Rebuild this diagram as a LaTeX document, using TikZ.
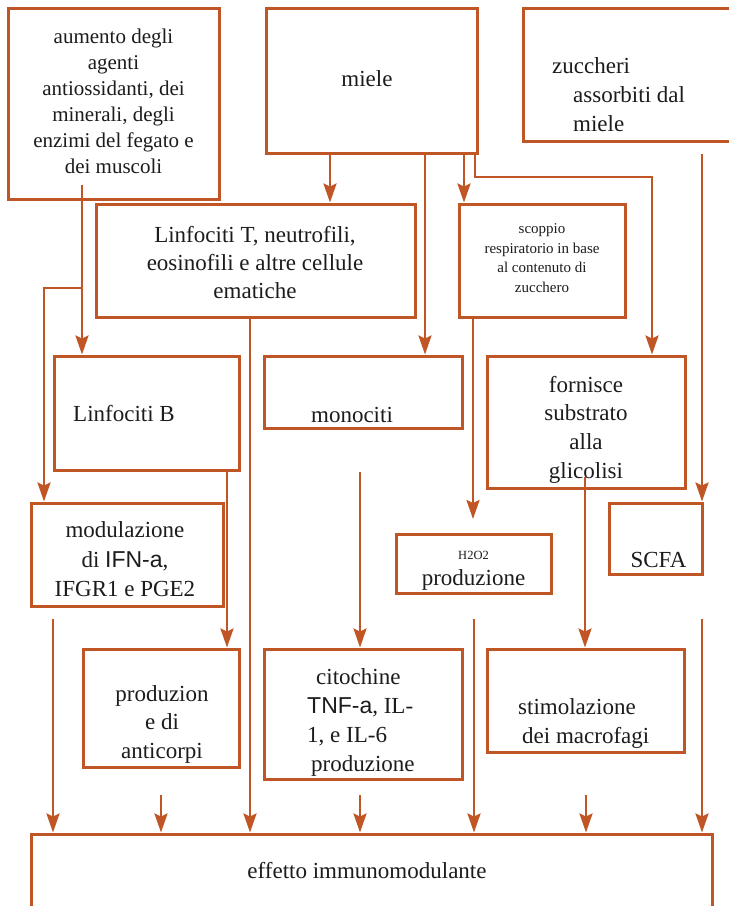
\documentclass[tikz,border=0pt]{standalone}
\usepackage{fontspec}
\setmainfont{Liberation Serif}
\setsansfont{Liberation Sans}
\usetikzlibrary{arrows.meta}
\definecolor{brn}{RGB}{192,86,38}
\definecolor{ink}{RGB}{30,27,28}
\begin{document}
\begin{tikzpicture}[x=1pt,y=-1pt,
  frame/.style={inner sep=0pt,outer sep=0pt},
  edge/.style={draw=brn,line width=3pt},
  conn/.style={draw=brn,line width=2.6pt},
  arr/.style={conn,shorten >=1.5pt,-{Stealth[length=19pt,width=13pt,inset=3pt]}},
  txt/.style={text=ink,inner sep=0pt,align=center,font=\fontsize{23}{28.7}\selectfont},
]
\path[fill=white,use as bounding box] (0,0) rectangle (729,906);

% box frames
\node[frame,minimum width=211pt,minimum height=191pt] (aum) at (113.5,103.5) {};
\node[frame,minimum width=211pt,minimum height=145pt] (miele) at (371.5,80.5) {};
\node[frame,minimum width=220pt,minimum height=133pt] (zuc) at (633,74.5) {};
\node[frame,minimum width=319pt,minimum height=113pt] (LT) at (255.5,260.5) {};
\node[frame,minimum width=166pt,minimum height=113pt] (sco) at (542,260.5) {};
\node[frame,minimum width=185pt,minimum height=114pt] (LB) at (146.5,413) {};
\node[frame,minimum width=198pt,minimum height=72pt] (mon) at (363,392) {};
\node[frame,minimum width=198pt,minimum height=132pt] (forn) at (586,422) {};
\node[frame,minimum width=192pt,minimum height=103pt] (mod) at (127,554.5) {};
\node[frame,minimum width=155pt,minimum height=59pt] (hoo) at (473.5,563.5) {};
\node[frame,minimum width=93pt,minimum height=71pt] (scfa) at (655.5,538.5) {};
\node[frame,minimum width=156pt,minimum height=118pt] (anti) at (161,708) {};
\node[frame,minimum width=198pt,minimum height=130pt] (cito) at (363,714) {};
\node[frame,minimum width=197pt,minimum height=103pt] (stim) at (585.5,700.5) {};
\node[frame,minimum width=681pt,minimum height=90pt] (eff) at (371.5,879) {};

\begin{scope}
\clip (0,0) rectangle (729,906);
\foreach \b in {aum,miele,zuc,LT,sco,LB,mon,forn,mod,hoo,scfa,anti,cito,stim,eff}
  \draw[edge] (\b.north west) rectangle (\b.south east);
\end{scope}

% texts
\node[txt,font=\fontsize{21}{26}\selectfont] (taum) at (113.5,101) {aumento degli\\agenti\\antiossidanti, dei\\minerali, degli\\enzimi del fegato e\\dei muscoli};
\node[txt] (tmiele) at (367,79) {miele};
\node[txt,align=left,anchor=west] (tzuc) at (552,94.5) {zuccheri\\\hspace*{21pt}assorbiti dal\\\hspace*{21pt}miele};
\node[txt,font=\fontsize{23}{28}\selectfont] (tLT) at (255,263) {Linfociti T, neutrofili,\\eosinofili e altre cellule\\ematiche};
\node[txt,font=\fontsize{15}{19.7}\selectfont] (tsco) at (542,258) {scoppio\\respiratorio in base\\al contenuto di\\zucchero};
\node[txt,anchor=west] (tLB) at (73,414) {Linfociti B};
\node[txt] (tmon) at (352,414.5) {monociti};
\node[txt] (tforn) at (586,429.5) {fornisce\\substrato\\alla\\glicolisi};
\node[txt,font=\fontsize{23}{29.5}\selectfont] (tmod) at (125,559.5) {modulazione\\di \textsf{IFN-a},\\IFGR1 e PGE2};
\node[txt,font=\fontsize{23}{26}\selectfont] (thoo) at (473.5,570.5) {{\fontsize{12.5}{13}\selectfont H2O2}\\produzione};
\node[txt] (tscfa) at (658.5,559.5) {SCFA};
\node[txt,font=\fontsize{23}{28.5}\selectfont] (tanti) at (162,724) {produzion\\e di\\anticorpi};
\node[txt,align=left,anchor=west] (tcito) at (307,722.5) {\hspace*{9pt}citochine\\\textsf{TNF-a}, IL-\\1, e IL-6\\\hspace*{4pt}produzione};
\node[txt,align=left,anchor=west,font=\fontsize{23}{29}\selectfont] (tstim) at (518,723) {stimolazione\\\hspace*{4pt}dei macrofagi};
\node[txt] (teff) at (367,871) {effetto immunomodulante};

% free ends of connectors
\coordinate (a1) at (82,185);
\coordinate (a2) at (82,288);
\coordinate (a3) at (44,288);
\coordinate (m1) at (475,177);
\coordinate (m2) at (652,177);
\coordinate (z1) at (702,154);
\coordinate (s1) at (473,519);
\coordinate (f1) at (585,477);
\coordinate (o1) at (360,472);
\coordinate (b1) at (53,619);
\coordinate (b2) at (161,795);
\coordinate (b3) at (360,795);
\coordinate (b4) at (474,619);
\coordinate (b5) at (586,795);
\coordinate (b6) at (702,619);

% connectors
\draw[arr] (a1) -- (LB.north -| a1);
\draw[arr] (a2) -- (a3) -- (mod.north -| a3);
\draw[arr] (miele.south -| 330,0) -- (LT.north -| 330,0);
\draw[arr] (miele.south -| 425,0) -- (mon.north -| 425,0);
\draw[arr] (miele.south -| 464,0) -- (sco.north -| 464,0);
\draw[arr] (miele.south -| m1) -- (m1) -- (m2) -- (forn.north -| m2);
\draw[arr] (z1) -- (scfa.north -| z1);
\draw[arr,shorten >=0pt] (sco.south -| s1) -- (s1);
\draw[arr] (LT.south -| 250,0) -- (eff.north -| 250,0);
\draw[arr] (LB.south -| 227,0) -- (anti.north -| 227,0);
\draw[arr] (o1) -- (cito.north -| o1);
\draw[arr] (f1) -- (stim.north -| f1);
\draw[arr] (b1) -- (eff.north -| b1);
\draw[arr] (b2) -- (eff.north -| b2);
\draw[arr] (b3) -- (eff.north -| b3);
\draw[arr] (b4) -- (eff.north -| b4);
\draw[arr] (b5) -- (eff.north -| b5);
\draw[arr] (b6) -- (eff.north -| b6);
\end{tikzpicture}
\end{document}
